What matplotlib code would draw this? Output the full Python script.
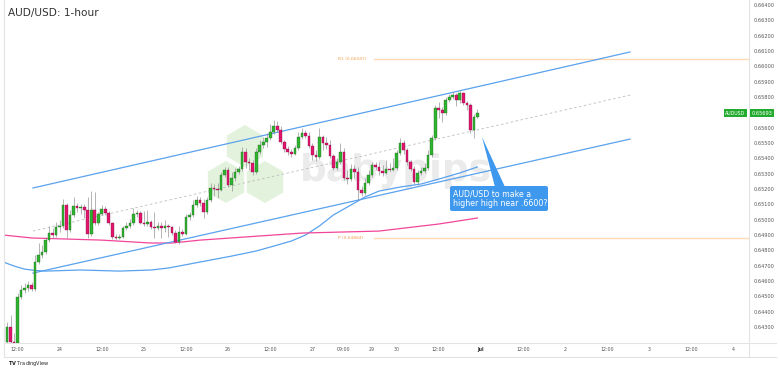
import matplotlib
matplotlib.use('Agg')
import matplotlib.pyplot as plt
import numpy as np
from matplotlib.patches import Polygon, FancyBboxPatch, RegularPolygon, Rectangle

W, H = 780, 369

# ---------------- data (AUD/USD 1-hour) ----------------
first_open = 0.64202
close = [0.64300, 0.64202, 0.64196, 0.64496, 0.64541, 0.64554, 0.64574, 0.64548, 0.64724, 0.64770,
         0.64789, 0.64867, 0.64913, 0.64900, 0.64952, 0.64959, 0.65096, 0.64933, 0.65031, 0.65089,
         0.65076, 0.65083, 0.65063, 0.64907, 0.65063, 0.64978, 0.65037, 0.65070, 0.65044, 0.64978,
         0.64887, 0.64884, 0.64890, 0.64946, 0.64959, 0.64978, 0.65037, 0.65044, 0.64978, 0.64975,
         0.64985, 0.64952, 0.64949, 0.64959, 0.64946, 0.64959, 0.64952, 0.64913, 0.64854, 0.64920,
         0.64907, 0.65018, 0.65031, 0.65096, 0.65128, 0.65109, 0.65050, 0.65128, 0.65207, 0.65200,
         0.65194, 0.65291, 0.65324, 0.65226, 0.65272, 0.65311, 0.65331, 0.65442, 0.65376, 0.65370,
         0.65311, 0.65442, 0.65487, 0.65507, 0.65533, 0.65572, 0.65611, 0.65585, 0.65507, 0.65461,
         0.65442, 0.65428, 0.65468, 0.65539, 0.65565, 0.65546, 0.65481, 0.65422, 0.65409, 0.65539,
         0.65500, 0.65487, 0.65415, 0.65337, 0.65376, 0.65442, 0.65272, 0.65265, 0.65331, 0.65311,
         0.65194, 0.65174, 0.65239, 0.65291, 0.65357, 0.65344, 0.65318, 0.65305, 0.65331, 0.65324,
         0.65337, 0.65435, 0.65500, 0.65455, 0.65376, 0.65331, 0.65246, 0.65305, 0.65318, 0.65337,
         0.65422, 0.65533, 0.65729, 0.65715, 0.65696, 0.65781, 0.65800, 0.65813, 0.65781, 0.65826,
         0.65761, 0.65748, 0.65585, 0.65670, 0.65693]
high = [0.64333, 0.64378, 0.64261, 0.64522, 0.64574, 0.64587, 0.64600, 0.64594, 0.64770, 0.64848,
        0.64835, 0.64887, 0.64959, 0.64946, 0.64985, 0.64998, 0.65135, 0.65109, 0.65063, 0.65148,
        0.65109, 0.65102, 0.65102, 0.65148, 0.65187, 0.65181, 0.65050, 0.65096, 0.65089, 0.65057,
        0.64985, 0.64907, 0.64907, 0.64959, 0.64985, 0.65004, 0.65076, 0.65063, 0.65057, 0.65057,
        0.65063, 0.64998, 0.65050, 0.64985, 0.64985, 0.64998, 0.64972, 0.64959, 0.64933, 0.64959,
        0.64939, 0.65037, 0.65050, 0.65128, 0.65154, 0.65148, 0.65135, 0.65148, 0.65239, 0.65233,
        0.65239, 0.65311, 0.65344, 0.65344, 0.65311, 0.65337, 0.65350, 0.65474, 0.65468, 0.65402,
        0.65389, 0.65468, 0.65520, 0.65539, 0.65565, 0.65624, 0.65650, 0.65644, 0.65611, 0.65520,
        0.65481, 0.65461, 0.65487, 0.65572, 0.65598, 0.65585, 0.65572, 0.65500, 0.65455, 0.65598,
        0.65552, 0.65539, 0.65520, 0.65428, 0.65402, 0.65500, 0.65468, 0.65324, 0.65363, 0.65357,
        0.65344, 0.65220, 0.65272, 0.65324, 0.65376, 0.65376, 0.65376, 0.65357, 0.65389, 0.65370,
        0.65402, 0.65455, 0.65533, 0.65520, 0.65468, 0.65389, 0.65350, 0.65324, 0.65344, 0.65370,
        0.65455, 0.65552, 0.65748, 0.65768, 0.65735, 0.65800, 0.65820, 0.65833, 0.65826, 0.65839,
        0.65833, 0.65774, 0.65761, 0.65689, 0.65722]
low = [0.64196, 0.64189, 0.64183, 0.64183, 0.64483, 0.64522, 0.64535, 0.64535, 0.64535, 0.64711,
       0.64750, 0.64776, 0.64854, 0.64881, 0.64887, 0.64920, 0.64946, 0.64881, 0.64920, 0.65018,
       0.65050, 0.65037, 0.65011, 0.64881, 0.64894, 0.64965, 0.64965, 0.65031, 0.65031, 0.64965,
       0.64874, 0.64867, 0.64874, 0.64881, 0.64933, 0.64946, 0.64965, 0.65018, 0.64972, 0.64959,
       0.64959, 0.64939, 0.64881, 0.64933, 0.64881, 0.64920, 0.64887, 0.64900, 0.64848, 0.64841,
       0.64894, 0.64900, 0.64998, 0.65018, 0.65083, 0.65089, 0.65011, 0.65037, 0.65115, 0.65154,
       0.65141, 0.65187, 0.65278, 0.65213, 0.65187, 0.65252, 0.65298, 0.65318, 0.65337, 0.65324,
       0.65291, 0.65298, 0.65428, 0.65468, 0.65474, 0.65520, 0.65559, 0.65572, 0.65494, 0.65442,
       0.65422, 0.65409, 0.65422, 0.65455, 0.65526, 0.65533, 0.65468, 0.65389, 0.65383, 0.65396,
       0.65455, 0.65461, 0.65402, 0.65324, 0.65324, 0.65363, 0.65259, 0.65233, 0.65252, 0.65272,
       0.65128, 0.65154, 0.65161, 0.65226, 0.65278, 0.65324, 0.65291, 0.65285, 0.65298, 0.65311,
       0.65318, 0.65324, 0.65422, 0.65428, 0.65357, 0.65318, 0.65233, 0.65226, 0.65291, 0.65305,
       0.65324, 0.65409, 0.65520, 0.65663, 0.65637, 0.65683, 0.65768, 0.65787, 0.65742, 0.65761,
       0.65748, 0.65715, 0.65565, 0.65533, 0.65663]

# moving averages (bar index, price)
ma_blue_idx = [-1, 2, 5, 8, 11, 21, 32, 41, 46, 55, 64, 71, 76, 81, 85, 89, 93, 98, 102, 106,
               112, 118, 123, 129, 134]
ma_blue = [0.64724, 0.64698, 0.64678, 0.64669, 0.64665, 0.64672, 0.64665, 0.64672, 0.64685,
           0.64724, 0.64763, 0.64796, 0.64828, 0.64861, 0.64900, 0.64959, 0.65031, 0.65096,
           0.65148, 0.65187, 0.65213, 0.65233, 0.65265, 0.65305, 0.65344]
ma_pink_idx = [-1, 7, 17, 27, 41, 47, 55, 72, 84, 106, 123, 134]
ma_pink = [0.64900, 0.64881, 0.64874, 0.64867, 0.64848, 0.64848, 0.64867, 0.64894, 0.64913,
           0.64926, 0.64972, 0.65011]

# channel (bar index pairs, price pairs)
chan_x = [7.4, 177.5]
chan_upper = [0.65207, 0.66094]
chan_mid = [0.64926, 0.65813]
chan_lower = [0.64652, 0.65526]

r1_level, p_level = 0.66047, 0.64884
last_price = 0.65693

tick_idx = [3, 15, 27, 39, 51, 63, 75, 87, 96, 104, 111, 123, 135, 147, 159, 171, 183, 195, 207]
tick_lab = ['12:00', '24', '12:00', '25', '12:00', '26', '12:00', '27', '09:00', '29', '30',
            '12:00', 'Jul', '12:00', '2', '12:00', '3', '12:00', '4']
price_ticks = [0.643 + 0.001 * k for k in range(22)]

# ---------------- figure ----------------
fig = plt.figure(figsize=(W / 100, H / 100), dpi=100)
fig.patch.set_facecolor('white')

bg = fig.add_axes([0, 0, 1, 1], zorder=0)
bg.set_xlim(0, W); bg.set_ylim(H, 0); bg.axis('off')

# watermark
for cx, cy in [(245, 146), (226, 182), (265, 182)]:
    bg.add_patch(RegularPolygon((cx, cy), 6, radius=21, orientation=0,
                                facecolor='#e3f2dd', edgecolor='none'))
bg.text(300, 181, 'babypips', fontsize=27, fontweight='bold', color='#ebebeb',
        ha='left', va='baseline')

# frame lines
frame_c = '#e3e3e3'
bg.plot([4, 4], [0, 357], color=frame_c, lw=0.8)
bg.plot([749, 749], [0, 357], color=frame_c, lw=0.8)
bg.plot([4, 776], [343, 343], color=frame_c, lw=0.8)
bg.plot([4, 776], [357, 357], color=frame_c, lw=0.8)

ax = fig.add_axes([5 / W, 1 - 343 / H, (749 - 5) / W, 343 / H], zorder=1)
ax.set_facecolor('none')
ax.set_xlim(-0.57, 211.4)
ax.set_ylim(0.64196, 0.66433)
for s in ax.spines.values():
    s.set_visible(False)

idx = np.arange(len(close))
o = np.array([first_open] + close[:-1])
c = np.array(close)
hi = np.maximum(np.array(high), np.maximum(o, c))
lo = np.minimum(np.array(low), np.minimum(o, c))
up = c >= o
ax.vlines(idx, lo, hi, color='#8a8a8a', lw=0.45, zorder=3)
body_b = np.minimum(o, c)
body_h = np.maximum(np.abs(c - o), 0.000025)
ax.bar(idx, body_h, bottom=body_b, width=0.74,
       color=np.where(up, '#2fb42f', '#e3166e'),
       edgecolor=np.where(up, '#1e5e1e', '#7a0c3c'), linewidth=0.25, zorder=4)

# moving averages
ax.plot(ma_blue_idx, ma_blue, color='#5aa2ee', lw=0.9, zorder=2)
ax.plot(ma_pink_idx, ma_pink, color='#f2459a', lw=0.9, zorder=2)

# channel
ax.plot(chan_x, chan_upper, color='#5aa2ee', lw=0.9, zorder=2)
ax.plot(chan_x, chan_lower, color='#5aa2ee', lw=0.9, zorder=2)
ax.plot(chan_x, chan_mid, color='#bdbdbd', lw=0.6, ls=(0, (3, 3)), zorder=2)

# pivot lines
ax.plot([104.5, 211.4], [r1_level, r1_level], color='#ffd9b3', lw=1.0, zorder=1)
ax.plot([104.5, 211.4], [p_level, p_level], color='#ffd9b3', lw=1.0, zorder=1)
ax.text(94.2, r1_level, 'R1 (%.5f)' % r1_level, fontsize=3.2, color='#f5a04b', va='center')
ax.text(94.2, p_level, 'P (%.5f)' % p_level, fontsize=3.2, color='#f5a04b', va='center')

# axes ticks (the tick hidden behind the last-price label is skipped)
shown = [v for v in price_ticks if abs(v - last_price) > 0.0005]
ax.yaxis.tick_right()
ax.set_yticks(shown)
ax.set_yticklabels(['%.5f' % v for v in shown])
ax.tick_params(axis='y', length=0, pad=3, labelsize=3.6, labelcolor='#555555')
ax.set_xticks(tick_idx)
ax.set_xticklabels(tick_lab)
ax.tick_params(axis='x', length=0, pad=3.2, labelsize=3.4, labelcolor='#555555')
for t in ax.get_xticklabels():
    if t.get_text() == 'Jul':
        t.set_fontweight('bold'); t.set_color('#333333')

# overlay for labels / callout
top = fig.add_axes([0, 0, 1, 1], zorder=5)
top.set_xlim(0, W); top.set_ylim(H, 0); top.axis('off')
top.patch.set_alpha(0)

fig.text(8 / W, 1 - 13 / H, 'AUD/USD: 1-hour', fontsize=7.6, color='#333333', va='center', ha='left')

# last-price labels
ly = 5 + (0.664 - last_price) * 15330
top.add_patch(Rectangle((750, ly - 4), 24, 8, facecolor='#22ab2e', edgecolor='none'))
top.text(762, ly, '%.5f' % last_price, fontsize=3.6, color='white', ha='center', va='center')
top.add_patch(Rectangle((724, ly - 4), 23, 8, facecolor='#22ab2e', edgecolor='none'))
top.text(735.5, ly, 'AUDUSD', fontsize=3.4, color='white', ha='center', va='center')

# callout
top.add_patch(Polygon([[482, 137], [495, 187], [505, 187]], closed=True,
                      facecolor='#3d98ee', edgecolor='none'))
top.add_patch(FancyBboxPatch((450, 186), 98, 25, boxstyle='round,pad=0,rounding_size=2',
                             facecolor='#3d98ee', edgecolor='none'))
top.text(453, 198.5, 'AUD/USD to make a\nhigher high near .6600?', fontsize=5.7,
         color='white', ha='left', va='center', linespacing=1.1)

# TradingView mark
fig.text(8 / W, 1 - 363 / H, r'$\mathbf{TV}$ TradingView', fontsize=3.6, color='#222222',
         va='center', ha='left')

fig.savefig('out.png', dpi=100, facecolor='white')
